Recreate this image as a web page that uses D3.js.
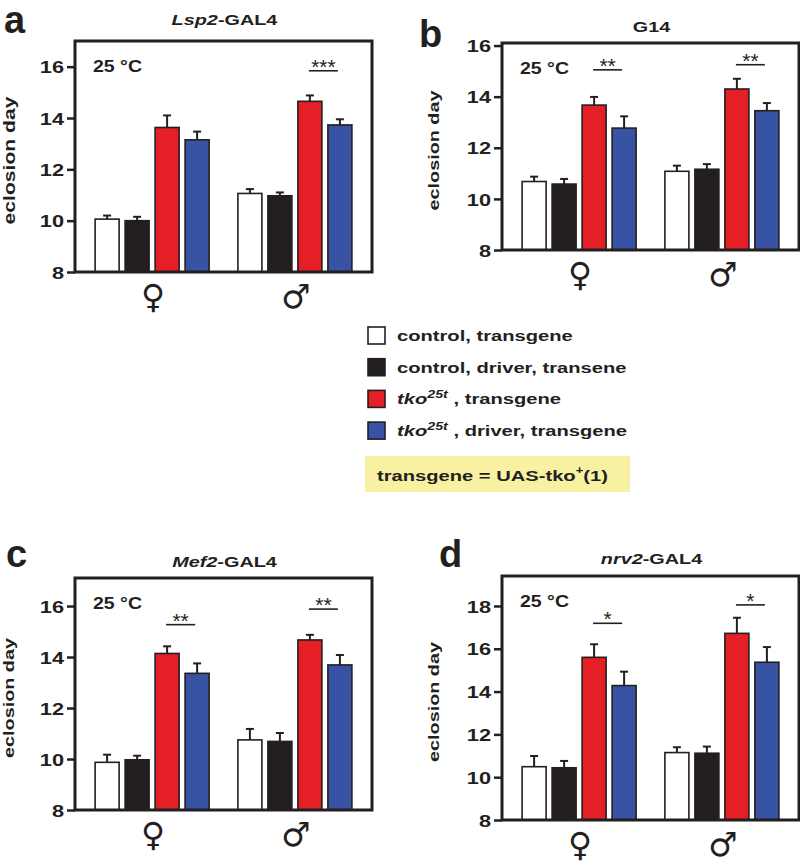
<!DOCTYPE html>
<html>
<head>
<meta charset="utf-8">
<script src="https://cdn.jsdelivr.net/npm/d3@7"></script>
<style>
  html, body { margin: 0; padding: 0; background: #fff; }
  svg { display: block; }
</style>
</head>
<body>
<svg id="chart" width="800" height="863"></svg>
<script>
// ---------------- DATA ----------------
const groups = ["♀", "♂"];
const seriesNames = ["control, transgene", "control, driver, transene", "tko25t, transgene", "tko25t, driver, transgene"];
const seriesColors = ["#ffffff", "#231f20", "#e41f26", "#3853a4"];

const panelLetters = ["a", "b", "c", "d"];
const panelDrivers = [["Lsp2", "-GAL4"], ["", "G14"], ["Mef2", "-GAL4"], ["nrv2", "-GAL4"]];
const temperatureLabel = "25 °C";
const yAxisLabel = "eclosion day";

const ticksA = [8, 10, 12, 14, 16];
const ticksB = [8, 10, 12, 14, 16];
const ticksC = [8, 10, 12, 14, 16];
const ticksD = [8, 10, 12, 14, 16, 18];
const yMaxA = 17.0, yMaxB = 16.1, yMaxC = 17.1, yMaxD = 19.4;

// means [female, male] x [4 series]
const meansA = [[10.06, 10.00, 13.63, 13.15], [11.06, 10.97, 14.65, 13.73]];
const semA   = [[0.14, 0.15, 0.47, 0.32],     [0.17, 0.13, 0.23, 0.22]];
const meansB = [[10.68, 10.58, 13.67, 12.77], [11.08, 11.16, 14.30, 13.45]];
const semB   = [[0.19, 0.20, 0.32, 0.46],     [0.22, 0.20, 0.40, 0.30]];
const meansC = [[9.87, 9.97, 14.14, 13.36],   [10.75, 10.69, 14.67, 13.69]];
const semC   = [[0.30, 0.16, 0.28, 0.39],     [0.43, 0.33, 0.20, 0.39]];
const meansD = [[10.49, 10.44, 15.60, 14.28], [11.15, 11.12, 16.72, 15.37]];
const semD   = [[0.50, 0.32, 0.61, 0.65],     [0.25, 0.31, 0.73, 0.71]];

// significance (red vs blue) per group
const sigA = [null, "***"], sigLevelA = [null, 15.84];
const sigB = ["**", "**"],  sigLevelB = [15.05, 15.25];
const sigC = ["**", "**"],  sigLevelC = [15.27, 15.88];
const sigD = ["*", "*"],    sigLevelD = [17.19, 18.05];

const transgeneNote = ["transgene = UAS-tko", "+", "(1)"];

// ---------------- LAYOUT ----------------
const panels = [
  { means: meansA, sem: semA, ticks: ticksA, yMax: yMaxA, sig: sigA, sigLevel: sigLevelA,
    left: 75, right: 372, top: 41, bottom: 272, title: panelDrivers[0], letter: panelLetters[0],
    letterPos: [4, 33], titleY: 25, tempY: 72, labelX: 15, labelSize: 16 },
  { means: meansB, sem: semB, ticks: ticksB, yMax: yMaxB, sig: sigB, sigLevel: sigLevelB,
    left: 502, right: 799, top: 43, bottom: 250, title: panelDrivers[1], letter: panelLetters[1],
    letterPos: [419, 47], titleY: 32, tempY: 74, labelX: 439, labelSize: 15 },
  { means: meansC, sem: semC, ticks: ticksC, yMax: yMaxC, sig: sigC, sigLevel: sigLevelC,
    left: 75, right: 372, top: 578, bottom: 810, title: panelDrivers[2], letter: panelLetters[2],
    letterPos: [6, 567], titleY: 567, tempY: 609, labelX: 14, labelSize: 15 },
  { means: meansD, sem: semD, ticks: ticksD, yMax: yMaxD, sig: sigD, sigLevel: sigLevelD,
    left: 502, right: 799, top: 576, bottom: 820, title: panelDrivers[3], letter: panelLetters[3],
    letterPos: [439, 567], titleY: 564, tempY: 607, labelX: 439, labelSize: 15 }
];

const FONT = "'Liberation Sans', Arial, Helvetica, sans-serif";
const SX = 1.28; // horizontal stretch of the original typeface
const svg = d3.select("#chart");

function stext(parent, x, y, str, opts = {}) {
  const t = parent.append("text")
    .attr("transform", `translate(${x},${y}) rotate(${opts.rotate || 0}) scale(${opts.sx || SX},1)`)
    .attr("font-family", opts.family || FONT)
    .attr("font-weight", opts.weight || "bold")
    .attr("font-size", opts.size || 15.5)
    .attr("text-anchor", opts.anchor || "start")
    .attr("fill", opts.fill || "#231f20");
  if (str !== null) t.text(str);
  return t;
}

panels.forEach(p => {
  const g = svg.append("g");
  const width = p.right - p.left;

  const y = d3.scaleLinear().domain([8, p.yMax]).range([p.bottom, p.top]);
  const x0 = d3.scaleBand().domain(groups).range([p.left, p.right]).paddingInner(0).paddingOuter(0.04);
  const x1 = d3.scaleBand().domain(d3.range(seriesNames.length)).range([0, x0.bandwidth()])
    .paddingInner(0.2).paddingOuter(0.48);

  // bars
  groups.forEach((grp, gi) => {
    const gg = g.append("g").attr("transform", `translate(${x0(grp)},0)`);
    seriesNames.forEach((s, si) => {
      const v = p.means[gi][si];
      const e = p.sem[gi][si];
      const bx = x1(si), bw = x1.bandwidth();
      const cx = bx + bw / 2;
      // error bar (upper)
      gg.append("line").attr("x1", cx).attr("x2", cx).attr("y1", y(v)).attr("y2", y(v + e))
        .attr("stroke", "#231f20").attr("stroke-width", 2);
      gg.append("line").attr("x1", cx - 4).attr("x2", cx + 4).attr("y1", y(v + e)).attr("y2", y(v + e))
        .attr("stroke", "#231f20").attr("stroke-width", 2);
      gg.append("rect")
        .attr("x", bx).attr("y", y(v)).attr("width", bw).attr("height", y(8) - y(v))
        .attr("fill", seriesColors[si]).attr("stroke", "#231f20").attr("stroke-width", 1.6);
    });
    // significance
    if (p.sig[gi]) {
      const xa = x1(2) + x1.bandwidth() / 2 - 1;
      const xb = x1(3) + x1.bandwidth() / 2 - 2;
      const ly = y(p.sigLevel[gi]);
      gg.append("line").attr("x1", xa).attr("x2", xb).attr("y1", ly).attr("y2", ly)
        .attr("stroke", "#231f20").attr("stroke-width", 1.6);
      gg.append("text").attr("x", (xa + xb) / 2).attr("y", ly + 3)
        .attr("text-anchor", "middle").attr("font-family", FONT).attr("font-size", 21)
        .attr("fill", "#231f20").text(p.sig[gi]);
    }
  });

  // frame
  g.append("rect").attr("x", p.left).attr("y", p.top).attr("width", width).attr("height", p.bottom - p.top)
    .attr("fill", "none").attr("stroke", "#231f20").attr("stroke-width", 3);

  // y axis
  const ax = g.append("g").attr("transform", `translate(${p.left},0)`)
    .call(d3.axisLeft(y).tickValues(p.ticks).tickSize(8).tickSizeOuter(0).tickFormat(d3.format("d")));
  ax.select(".domain").remove();
  ax.selectAll(".tick line").attr("stroke", "#231f20").attr("stroke-width", 2.5);
  ax.selectAll(".tick text")
    .attr("x", -11 / SX).attr("dy", "0.36em")
    .attr("transform", `scale(${SX},1)`)
    .attr("font-family", FONT).attr("font-weight", "bold").attr("font-size", 17)
    .attr("fill", "#231f20");

  // y label
  stext(g, p.labelX, (p.top + p.bottom) / 2 + 4, yAxisLabel,
    { rotate: -90, anchor: "middle", size: p.labelSize, sx: 1.32 });

  // x category symbols
  groups.forEach(grp => {
    g.append("text").attr("x", x0(grp) + x0.bandwidth() / 2 + 1).attr("y", p.bottom + 36)
      .attr("text-anchor", "middle").attr("font-family", "'DejaVu Sans', sans-serif")
      .attr("font-weight", "bold").attr("font-size", 33).attr("fill", "#231f20").text(grp);
  });

  // temperature
  stext(g, p.left + 18, p.tempY, temperatureLabel, { size: 16, sx: 1.22 });

  // title
  const tt = stext(g, (p.left + p.right) / 2 + 1, p.titleY, null, { anchor: "middle", size: 15.5 });
  if (p.title[0]) tt.append("tspan").attr("font-style", "italic").text(p.title[0]);
  tt.append("tspan").text(p.title[1]);

  // panel letter
  g.append("text").attr("x", p.letterPos[0]).attr("y", p.letterPos[1])
    .attr("font-family", FONT).attr("font-weight", "bold").attr("font-size", 38)
    .attr("fill", "#231f20").text(p.letter);
});

// ---------------- LEGEND ----------------
const lg = svg.append("g");
const legTop = 327, legStep = 31.7, legX = 368, sq = 17;
seriesNames.forEach((s, i) => {
  const ty = legTop + i * legStep;
  lg.append("rect").attr("x", legX).attr("y", ty).attr("width", sq).attr("height", sq)
    .attr("fill", seriesColors[i]).attr("stroke", "#231f20").attr("stroke-width", 1.6);
  const t = stext(lg, 397, ty + 14, null, { size: 15.5, sx: 1.3 });
  if (s.startsWith("tko25t")) {
    t.append("tspan").attr("font-style", "italic").text("tko");
    t.append("tspan").attr("font-style", "italic").attr("font-size", 11).attr("dy", -6).text("25t");
    t.append("tspan").attr("dy", 6).text(" " + s.slice(6));
  } else {
    t.text(s);
  }
});

lg.append("rect").attr("x", 365).attr("y", 456).attr("width", 265).attr("height", 36)
  .attr("fill", "#f8f1a2");
const nt = stext(lg, 377, 481, null, { size: 15.5, sx: 1.3 });
nt.append("tspan").text(transgeneNote[0]);
nt.append("tspan").attr("font-size", 10).attr("dy", -7).text(transgeneNote[1]);
nt.append("tspan").attr("dy", 7).text(transgeneNote[2]);
</script>
</body>
</html>
